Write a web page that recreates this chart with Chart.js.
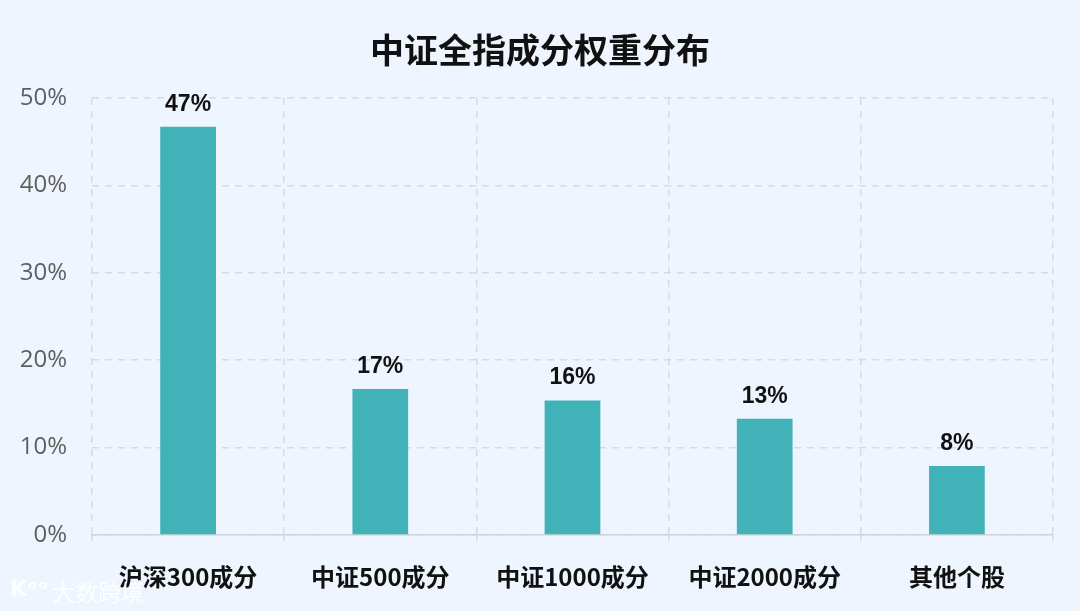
<!DOCTYPE html>
<html>
<head>
<meta charset="utf-8">
<script src="https://cdn.jsdelivr.net/npm/chart.js@4/dist/chart.umd.min.js"></script>
<style>
  html, body { margin: 0; padding: 0; background: #eef5fe; }
  #wrap { width: 1080px; height: 611px; position: relative; }
</style>
</head>
<body>
<div id="wrap"><canvas id="chart"></canvas></div>
<script>
// -------- DATA --------
const categories = ['沪深300成分', '中证500成分', '中证1000成分', '中证2000成分', '其他个股'];
const weights = [46.7, 16.7, 15.4, 13.3, 7.9];
const valueLabels = ['47%', '17%', '16%', '13%', '8%'];
const yTicks = [0, 10, 20, 30, 40, 50];
const chartTitle = '中证全指成分权重分布';
const watermark = '大数跨境';

const cjkFont = '"Noto Sans CJK SC", "Microsoft YaHei", sans-serif';

// -------- PLUGINS --------
const titlePlugin = {
    id: 'titleText',
    afterDraw(chart) {
        const ctx = chart.ctx;
        ctx.save();
        ctx.fillStyle = '#111';
        ctx.font = 'bold 34px ' + cjkFont;
        ctx.textAlign = 'center';
        ctx.textBaseline = 'middle';
        ctx.fillText(chartTitle, 540, 50);
        // watermark
        ctx.fillStyle = 'rgba(255,255,255,0.9)';
        ctx.font = '23px ' + cjkFont;
        ctx.textAlign = 'left';
        ctx.fillText(watermark, 52, 592);
        ctx.font = 'bold 22px "DejaVu Sans", sans-serif';
        ctx.fillText('Kᵒᵒ', 10, 590);
        ctx.restore();
    }
};

const valueLabelPlugin = {
    id: 'valueLabels',
    afterDatasetsDraw(chart) {
        const ctx = chart.ctx;
        const meta = chart.getDatasetMeta(0);
        ctx.save();
        ctx.fillStyle = '#111';
        ctx.font = 'bold 23px "Liberation Sans", Arial, sans-serif';
        ctx.textAlign = 'center';
        ctx.textBaseline = 'alphabetic';
        meta.data.forEach((bar, i) => {
            ctx.fillText(valueLabels[i], bar.x, bar.y - 16);
        });
        ctx.restore();
    }
};

// -------- CHART --------
new Chart(document.getElementById('chart'), {
    type: 'bar',
    data: {
        labels: categories,
        datasets: [{
            data: weights,
            backgroundColor: '#41b3b8',
            borderWidth: 0,
            categoryPercentage: 1,
            barPercentage: 0.29
        }]
    },
    options: {
        responsive: true,
        maintainAspectRatio: false,
        animation: false,
        layout: { padding: { top: 98, right: 27, bottom: 0, left: 0 } },
        plugins: {
            legend: { display: false },
            tooltip: { enabled: false }
        },
        scales: {
            x: {
                afterFit(scale) { scale.height = 76; },
                grid: {
                    color: '#d6dbe3',
                    lineWidth: 1.5,
                    tickLength: 6,
                    tickBorderDash: []
                },
                border: { display: true, color: '#d0d4da', width: 1.5, dash: [7, 6] },
                ticks: {
                    color: '#111',
                    padding: 21,
                    font: { family: cjkFont, size: 24, weight: 'bold' }
                }
            },
            y: {
                min: 0,
                max: 50,
                afterFit(scale) { scale.width = 92; },
                afterBuildTicks(scale) { scale.ticks = yTicks.map(v => ({ value: v })); },
                grid: { color: '#d6dbe3', lineWidth: 1.5, drawTicks: false },
                border: { display: false, dash: [7, 6] },
                ticks: {
                    color: '#5f5f5f',
                    padding: 25,
                    font: { family: '"Open Sans", "Noto Sans", sans-serif', size: 24 },
                    callback: v => v + '%'
                }
            }
        }
    },
    plugins: [titlePlugin, valueLabelPlugin]
});
</script>
</body>
</html>
